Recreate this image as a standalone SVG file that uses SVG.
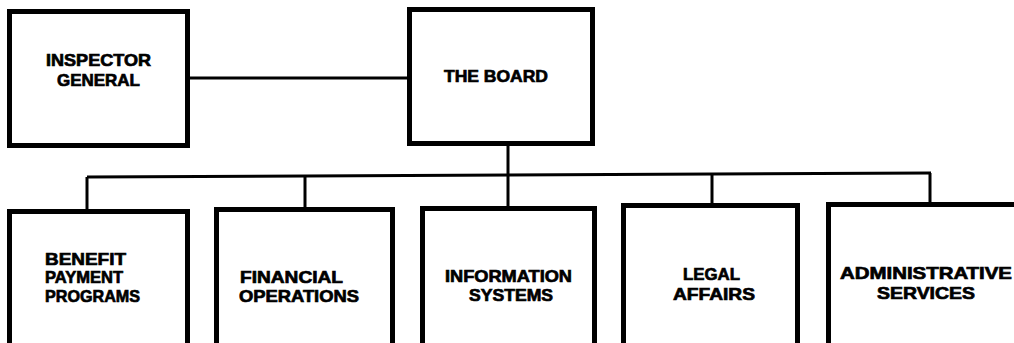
<svg xmlns="http://www.w3.org/2000/svg" width="1014" height="343" viewBox="0 0 1014 343">
<style>
.box{fill:#fff;stroke:#000;stroke-width:5}
.ln{stroke:#000;stroke-width:3;fill:none}
text{font-family:"Liberation Sans",Arial,sans-serif;font-weight:bold;font-size:17px;fill:#000;stroke:#000;stroke-width:0.7}
</style>
<rect width="1014" height="343" fill="#fff"/>
<g id="connectors">
<line class="ln" x1="190" y1="78" x2="408" y2="78"/>
<line class="ln" x1="508" y1="146" x2="508" y2="207"/>
<line class="ln" x1="87" y1="177" x2="931" y2="173"/>
<line class="ln" x1="87" y1="177" x2="87" y2="209"/>
<line class="ln" x1="305" y1="176" x2="305" y2="207"/>
<line class="ln" x1="712" y1="174" x2="712" y2="203"/>
<line class="ln" x1="930" y1="173" x2="930" y2="202"/>
</g>
<g id="inspector-general">
<rect class="box" x="9.5" y="11.5" width="178" height="134"/>
<text x="46" y="66" textLength="105" lengthAdjust="spacingAndGlyphs">INSPECTOR</text>
<text x="57" y="86" textLength="83" lengthAdjust="spacingAndGlyphs">GENERAL</text>
</g>
<g id="the-board">
<rect class="box" x="409.5" y="9.5" width="183" height="134"/>
<text x="444" y="82" textLength="104" lengthAdjust="spacingAndGlyphs">THE  BOARD</text>
</g>
<g id="benefit-payment-programs">
<rect class="box" x="9.5" y="211.5" width="178" height="150"/>
<text x="45" y="265" textLength="81" lengthAdjust="spacingAndGlyphs">BENEFIT</text>
<text x="45" y="283" textLength="78" lengthAdjust="spacingAndGlyphs">PAYMENT</text>
<text x="45" y="302" textLength="95" lengthAdjust="spacingAndGlyphs">PROGRAMS</text>
</g>
<g id="financial-operations">
<rect class="box" x="216.5" y="209.5" width="176" height="150"/>
<text x="240" y="283" textLength="103" lengthAdjust="spacingAndGlyphs">FINANCIAL</text>
<text x="239" y="302" textLength="120" lengthAdjust="spacingAndGlyphs">OPERATIONS</text>
</g>
<g id="information-systems">
<rect class="box" x="422.5" y="208.5" width="172" height="150"/>
<text x="445" y="282" textLength="127" lengthAdjust="spacingAndGlyphs">INFORMATION</text>
<text x="469" y="301" textLength="84" lengthAdjust="spacingAndGlyphs">SYSTEMS</text>
</g>
<g id="legal-affairs">
<rect class="box" x="623.5" y="205.5" width="174" height="150"/>
<text x="683" y="280" textLength="57" lengthAdjust="spacingAndGlyphs">LEGAL</text>
<text x="673" y="300" textLength="82" lengthAdjust="spacingAndGlyphs">AFFAIRS</text>
</g>
<g id="administrative-services">
<rect class="box" x="828.5" y="204.5" width="200" height="150"/>
<text x="840" y="279" textLength="172" lengthAdjust="spacingAndGlyphs">ADMINISTRATIVE</text>
<text x="877" y="299" textLength="98" lengthAdjust="spacingAndGlyphs">SERVICES</text>
</g>
</svg>
